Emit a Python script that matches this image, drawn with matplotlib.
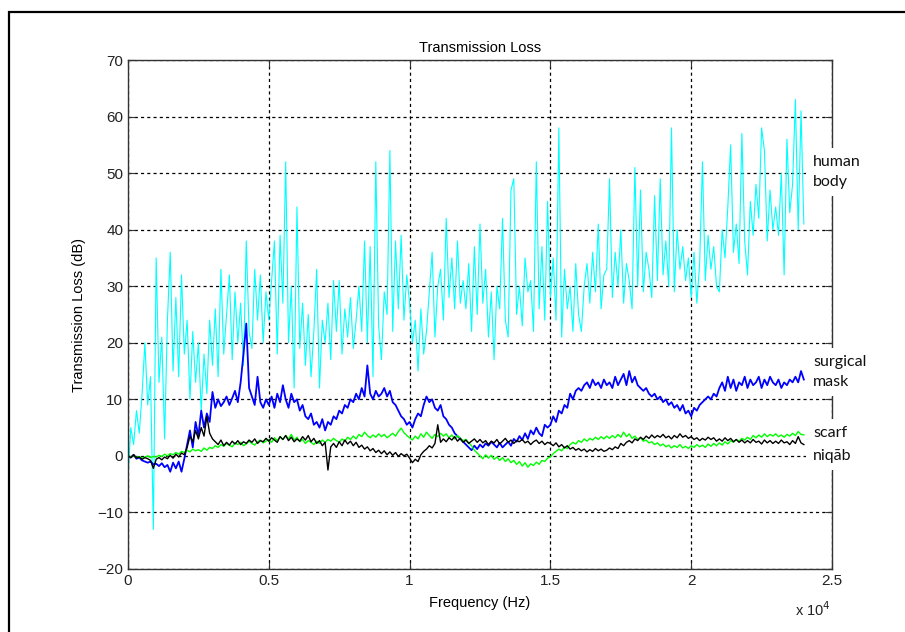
import numpy as np
import matplotlib
matplotlib.use("Agg")
import matplotlib.pyplot as plt
from matplotlib.ticker import FuncFormatter
from matplotlib.patches import Rectangle

# --- datos (paso de 100 Hz, 0 .. 24000 Hz) ---
step_hz = 100

human_body = [
    -4, 5, 2, 8, 4, 11, 20, 9, 14, -13,
    35, 13, 21, 3, 24, 36, 15, 28, 14, 32,
    18, 24, 10, 22, 13, 20, 8, 18, 11, 24,
    16, 26, 14, 33, 18, 25, 32, 17, 29, 20,
    27, 16, 38, 22, 19, 33, 24, 32, 20, 29,
    24, 31, 38, 18, 39, 27, 52, 20, 30, 12,
    44, 19, 27, 16, 25, 14, 22, 33, 12, 24,
    20, 27, 17, 31, 22, 31, 18, 26, 21, 28,
    19, 24, 30, 22, 38, 20, 37, 14, 52, 23,
    17, 29, 25, 54, 22, 38, 26, 39, 24, 32,
    27, 20, 24, 15, 26, 18, 22, 29, 36, 21,
    30, 33, 24, 42, 28, 35, 26, 38, 27, 31,
    26, 34, 22, 37, 25, 41, 27, 33, 21, 29,
    17, 30, 26, 42, 24, 21, 47, 49, 25, 30,
    23, 35, 29, 31, 22, 52, 26, 37, 24, 45,
    28, 35, 24, 58, 21, 33, 26, 30, 22, 34,
    25, 22, 30, 34, 27, 36, 29, 41, 26, 32,
    33, 49, 28, 36, 30, 40, 27, 34, 31, 26,
    51, 30, 47, 29, 36, 33, 28, 46, 31, 49,
    32, 38, 30, 58, 29, 40, 33, 37, 31, 35,
    28, 36, 27, 34, 52, 31, 39, 33, 37, 30,
    29, 40, 35, 44, 55, 36, 41, 34, 57, 38,
    32, 45, 39, 48, 42, 58, 54, 38, 47, 40,
    44, 39, 50, 32, 56, 43, 48, 63, 40, 61,
    41,
]

surgical_mask = [
    0, -0.3, 0.2, -0.5, -0.3, -0.8, -1.0, -1.2, -1.0, -1.5,
    -1.4, -1.8, -1.3, -2.0, -1.6, -2.8, -1.2, -2.2, -1.0, -2.8,
    -0.5, 2.0, 4.5, 1.5, 6.0, 3.5, 8.0, 5.0, 7.5, 6.0,
    11.3, 8.5, 10.0, 8.8, 9.5, 10.5, 9.0, 10.2, 11.5, 9.5,
    13.0, 18.0, 23.4, 12.0, 10.5, 9.0, 14.0, 9.5, 8.5, 10.0,
    9.0, 10.5, 8.5, 11.0, 9.5, 12.5, 10.0, 8.5, 11.0, 9.5,
    10.0, 8.0, 9.0, 7.0, 6.5, 7.5, 5.5, 6.0, 5.0, 6.5,
    4.5, 6.0, 5.5, 7.0, 6.5, 8.0, 7.5, 9.0, 8.5, 10.0,
    9.5, 11.0, 10.0, 12.0, 10.5, 16.0, 11.0, 10.0, 11.5, 10.5,
    11.0, 12.0, 10.5, 11.5, 9.5, 9.0, 8.0, 7.0, 6.5, 5.5,
    6.0, 5.0, 6.5, 7.5, 7.0, 9.0, 10.5, 9.5, 10.0, 8.5,
    8.0, 9.0, 7.0, 6.5, 5.5, 5.0, 4.0, 3.5, 3.0, 2.5,
    2.0, 1.5, 1.0, 1.8, 1.2, 2.0, 1.5, 2.2, 1.8, 2.5,
    2.0, 1.5, 2.3, 1.5, 2.0, 2.5, 1.8, 3.0, 2.5, 3.5,
    2.8, 4.0, 3.0, 4.5, 3.8, 5.0, 4.0, 3.5, 5.5, 5.0,
    5.5, 7.0, 6.0, 8.0, 7.5, 9.0, 8.5, 11.0, 10.0, 11.5,
    12.0, 11.5, 12.5, 13.0, 12.0, 13.5, 12.5, 13.0, 12.0, 13.5,
    12.5, 13.0, 12.0, 14.0, 12.5, 13.5, 14.5, 12.5, 15.0, 13.0,
    14.0, 12.5, 12.0, 11.5, 12.0, 11.0, 10.5, 11.0, 10.0, 10.5,
    9.5, 10.0, 9.0, 9.5, 8.5, 9.0, 8.0, 9.0, 7.5, 8.0,
    7.0, 8.5, 8.0, 9.0, 9.5, 10.0, 10.5, 10.0, 11.0, 10.5,
    12.0, 13.0, 11.5, 14.0, 12.0, 13.5, 11.5, 13.0, 12.5, 14.0,
    12.0, 13.5, 12.5, 13.0, 14.0, 12.0, 13.5, 12.5, 14.0, 13.0,
    12.5, 13.5, 12.0, 13.0, 12.5, 13.5, 13.0, 14.0, 13.0, 15.0,
    13.5,
]

scarf = [
    0, -0.2, 0.1, -0.3, -0.1, -0.4, -0.2, 0.0, -0.3, -0.1,
    -0.2, 0.1, -0.1, 0.3, 0.0, 0.4, 0.2, 0.6, 0.3, 0.8,
    0.6, 1.0, 0.7, 1.2, 0.9, 1.1, 0.8, 1.4, 1.0, 1.5,
    1.3, 1.8, 1.5, 2.0, 1.7, 2.2, 1.9, 1.6, 2.3, 2.0,
    2.4, 1.8, 2.1, 2.6, 2.2, 1.9, 2.5, 2.8, 2.3, 2.6,
    2.9, 2.4, 3.2, 2.7, 3.4, 2.9, 3.6, 3.0, 3.8, 2.8,
    3.3, 2.5, 2.9, 2.2, 2.7, 2.4, 2.0, 2.6, 2.2, 2.8,
    2.4, 2.9, 2.6, 3.1, 2.7, 2.4, 3.0, 2.6, 3.3, 2.9,
    3.5, 3.0, 3.8, 3.4, 4.2, 3.6, 3.2, 3.7, 3.3, 3.9,
    3.4, 3.8, 3.2, 3.6, 4.0, 3.5, 4.3, 4.9, 4.1, 3.6,
    3.2, 2.8, 3.5, 3.0, 3.9, 3.3, 4.2, 3.6, 3.1, 3.8,
    3.4, 4.0, 3.5, 3.9, 3.2, 3.7, 3.0, 3.6, 3.1, 2.7,
    2.9, 2.3, 1.8, 1.0, 0.5, 0.0, -0.5, 0.2, -0.4, 0.1,
    -0.6, -0.2, -0.8, -0.3, -1.0, -0.5, -1.2, -0.8, -1.5, -1.0,
    -1.8, -1.2, -2.0, -1.4, -1.7, -1.1, -1.5, -0.8, -1.0, -0.4,
    -0.2, 0.4, 0.8, 1.2, 0.9, 1.6, 1.3, 2.0, 2.4, 2.1,
    2.7, 2.4, 3.0, 2.6, 3.1, 2.8, 3.3, 2.9, 3.4, 3.0,
    3.5, 3.1, 3.6, 3.2, 3.8, 3.3, 4.2, 3.4, 3.9, 3.1,
    3.5, 2.9, 3.2, 2.6, 2.8, 2.3, 2.5, 2.0, 2.3, 1.8,
    2.1, 1.6, 1.9, 1.4, 1.8, 1.5, 2.0, 1.4, 1.7, 1.3,
    1.8, 1.5, 2.0, 1.6, 1.9, 1.5, 2.1, 1.7, 2.2, 1.8,
    2.3, 1.9, 2.5, 2.1, 2.7, 2.4, 2.9, 2.6, 3.1, 2.8,
    3.3, 2.9, 3.6, 3.2, 3.7, 3.3, 3.9, 3.4, 3.8, 3.5,
    3.9, 3.4, 3.7, 3.3, 3.8, 3.5, 4.0, 3.6, 4.3, 3.8,
    3.7,
]

niqab = [
    0, -0.3, 0.2, -0.4, -0.2, -0.6, -0.3, -0.5, -0.8, -2.2,
    -0.6, -0.3, -0.7, -0.2, -0.5, 0.1, -0.4, 0.3, -0.2, 0.5,
    0.2, 1.5, 3.5, 2.5, 4.5, 3.0, 5.0, 3.5, 7.0, 4.0,
    3.0, 2.5, 2.0, 2.8, 1.8, 2.4, 1.9, 2.6, 2.1, 2.7,
    2.0, 2.5, 2.2, 2.8, 2.4, 3.0, 2.2, 2.7, 2.5, 3.1,
    2.6, 3.2, 2.8, 2.4, 3.4, 2.9, 3.6, 2.7, 3.3, 2.5,
    3.0, 2.6, 3.4, 2.8, 3.6, 2.5, 3.1, 2.2, 2.7, 1.8,
    2.4, -2.5, 1.6, 2.2, 1.5, 2.5, 1.8, 2.8, 2.1, 2.6,
    1.8, 2.4, 1.5, 1.9, 1.2, 1.6, 0.9, 1.3, 0.6, 1.0,
    0.4, 0.9, 0.2, 0.7, 0.1, 0.6, -0.1, 0.4, 0.0, 0.3,
    -0.4, -1.2, -0.6, -1.0, 0.2, 0.8, 1.2, 1.8, 1.4, 2.2,
    5.5, 2.4, 3.0, 2.5, 3.2, 2.8, 3.4, 2.6, 3.1, 2.4,
    2.8, 2.2, 2.6, 3.0, 2.4, 2.9, 2.3, 2.7, 2.0, 2.6,
    2.3, 2.9, 2.1, 2.6, 3.1, 2.4, 2.8, 2.2, 2.7, 2.5,
    2.9, 2.3, 2.6, 2.0, 2.5, 2.8, 2.2, 2.6, 2.0, 2.4,
    2.2, 1.8, 2.3, 1.6, 2.0, 1.4, 1.8, 1.2, 1.5, 1.0,
    1.3, 0.9, 1.2, 0.7, 1.1, 0.8, 1.3, 0.9, 1.2, 0.8,
    1.0, 1.4, 1.1, 1.6, 1.3, 2.2, 1.8, 2.4, 2.7, 2.3,
    3.0, 2.7, 3.3, 2.9, 3.5, 3.1, 3.7, 3.2, 3.6, 3.3,
    3.8, 3.2, 3.5, 3.0, 3.6, 3.2, 3.9, 3.3, 3.6, 3.1,
    3.4, 2.9, 3.2, 2.7, 3.1, 2.8, 3.3, 2.9, 3.2, 2.6,
    3.0, 2.6, 3.2, 2.7, 3.1, 2.5, 2.9, 2.4, 2.8, 2.3,
    2.7, 2.3, 2.9, 2.4, 2.6, 2.1, 2.8, 2.3, 2.7, 2.2,
    2.6, 2.2, 2.8, 2.3, 2.5, 2.0, 2.7, 2.2, 3.4, 2.3,
    2.0,
]

series = [
    (human_body, "#00ffff", 0.8),
    (surgical_mask, "#0000ff", 1.3),
    (scarf, "#00ff00", 1.0),
    (niqab, "#000000", 1.0),
]

x_ticks = [0, 5000, 10000, 15000, 20000, 25000]
y_ticks = [-20, -10, 0, 10, 20, 30, 40, 50, 60, 70]

narrow = ["Liberation Sans Narrow", "Liberation Sans", "DejaVu Sans"]
axis_col = "#333333"

fig = plt.figure(figsize=(9.05, 6.32), dpi=100)
ax = fig.add_axes([128 / 905, 63 / 632, 704 / 905, 509 / 632])

for vals, col, lw in series:
    freq = np.arange(len(vals)) * step_hz
    ax.plot(freq, vals, color=col, lw=lw)

ax.set_xlim(0, 25000)
ax.set_ylim(-20, 70)
ax.set_xticks(x_ticks)
ax.set_yticks(y_ticks)
ax.xaxis.set_major_formatter(FuncFormatter(lambda v, p: f"{v / 1e4:g}"))
ax.grid(True, color="black", linestyle=(0, (2.5, 2.5)), lw=0.9)
ax.tick_params(direction="in", top=True, right=True, length=5,
               colors=axis_col, labelcolor="#222222", labelsize=11)
for lab in ax.get_xticklabels() + ax.get_yticklabels():
    lab.set_family(narrow)
for sp in ax.spines.values():
    sp.set_color(axis_col)
    sp.set_linewidth(1.0)

ax.set_title("Transmission Loss", family=narrow, fontsize=10.5, pad=6)
ax.set_xlabel("Frequency (Hz)", family=narrow, fontsize=10.5, labelpad=6)
ax.set_ylabel("Transmission Loss (dB)", family=narrow, fontsize=10.5, labelpad=8)
fig.text(795 / 905, 1 - 610 / 632, "x 10$^4$", family=narrow, fontsize=10.5,
         color="#222222", va="center")

# etiquetas de las curvas, con fondo blanco sobre el borde derecho
label_pos = [(172, "human\nbody"), (372, "surgical\nmask"),
             (433, "scarf"), (456, "niq\u0101b")]
for ypix, txt in label_pos:
    fig.text(813 / 905, 1 - ypix / 632, txt, family=["Lato", "DejaVu Sans"],
             fontsize=11.5, color="#111111", va="center", ha="left",
             linespacing=1.55,
             bbox=dict(facecolor="white", edgecolor="none", pad=5))

# marco exterior
fig.add_artist(Rectangle((9 / 905, -0.1), 1.2, 1 - 12 / 632 + 0.1,
                         transform=fig.transFigure, fill=False,
                         edgecolor="black", lw=1.6))

fig.savefig("out.png", dpi=100)
